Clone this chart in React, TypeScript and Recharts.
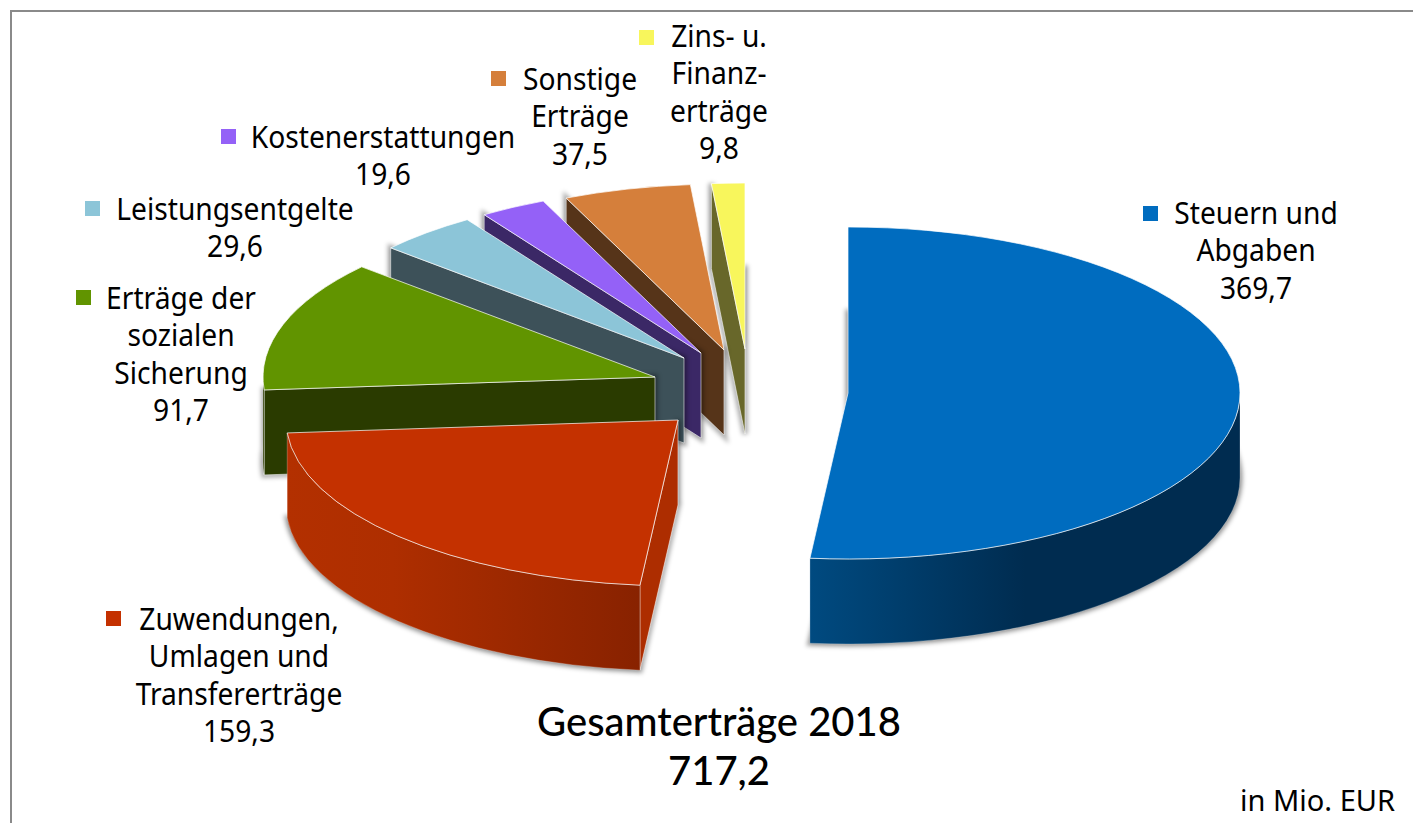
import React from "react";
import { PieChart, Pie } from "recharts";

// Drawn back to front, so the list runs from the rear slice to the blue one.
const categories = [
  "Zins- u.\nFinanz-\nerträge",
  "Sonstige\nErträge",
  "Kostenerstattungen",
  "Leistungsentgelte",
  "Erträge der\nsozialen\nSicherung",
  "Zuwendungen,\nUmlagen und\nTransfererträge",
  "Steuern und\nAbgaben",
];
const values = [9.8, 37.5, 19.6, 29.6, 91.7, 159.3, 369.7];
const valueLabels = ["9,8", "37,5", "19,6", "29,6", "91,7", "159,3", "369,7"];
const title = ["Gesamterträge 2018", "717,2"];
const unitNote = "in Mio. EUR";

const rows = categories.map((name, i) => ({ name, value: values[i], valueLabel: valueLabels[i] }));

// Styling and layout, per slice in the same order
const topColors = ["#f8f65c", "#d57f3b", "#9461f7", "#8cc5d8", "#619400", "#c43100", "#006cbf"];
const cutColors = ["#68672a", "#563419", "#3b2866", "#3d5159", "#2a3b00", "#ad2d00", "#002c50"];
const wallStops: [number, string][][] = [
  [[0, "#68672a"]],
  [[0, "#563419"]],
  [[0, "#3b2866"]],
  [[0, "#3d5159"]],
  [[0, "#2a3b00"]],
  [[0, "#b33000"], [0.3, "#ae2e00"], [1, "#882200"]],
  [[0, "#004a80"], [0.5, "#002c50"], [1, "#002c50"]],
];
const explode = [
  [-103, -44], [-124, -43], [-147, -40], [-164, -35], [-193, -16], [-170, 27], [0, 0],
];
const keyAt = [[639, 30], [491, 71], [221, 129], [85, 201], [76, 290], [106, 611], [1143, 206]];
const labelCenter = [[719, 37], [580, 80], [383, 138], [235, 210], [181, 299], [239, 620], [1256, 214]];

const CX = 848;
const CY = 393;
const RX = 392;
const TILT = 166 / 392;
const DEPTH = 85;
const FONT = "'Noto Sans', sans-serif";
const SQUEEZE = 0.94;

const rad = (d: number) => (d * Math.PI) / 180;

function Slice(props: any) {
  const { cx, cy, outerRadius, startAngle, endAngle, index } = props;
  const sweep = Math.abs(endAngle - startAngle);
  let a0 = ((90 - Math.max(startAngle, endAngle)) % 360 + 360) % 360;
  if (a0 > 359.9) a0 -= 360;
  const a1 = a0 + sweep;
  const rx = outerRadius;
  const ry = outerRadius * TILT;
  const [dx, dy] = explode[index];
  const ax = cx + dx;
  const ay = cy + dy;
  const pt = (a: number, down = 0) =>
    `${ax + rx * Math.sin(rad(a))} ${ay - ry * Math.cos(rad(a)) + down}`;
  const arc = (to: number, clockwise: boolean, large: boolean, down = 0) =>
    `A ${rx} ${ry} 0 ${large ? 1 : 0} ${clockwise ? 1 : 0} ${pt(to, down)}`;

  const top = `M ${ax} ${ay} L ${pt(a0)} ${arc(a1, true, sweep > 180)} Z`;
  const bottom = `M ${ax} ${ay + DEPTH} L ${pt(a0, DEPTH)} ${arc(a1, true, sweep > 180, DEPTH)} Z`;
  const cutVisible = Math.sin(rad(a0)) < -0.001;
  const cut = `M ${ax} ${ay} L ${pt(a0)} L ${pt(a0, DEPTH)} L ${ax} ${ay + DEPTH} Z`;
  const s = Math.max(a0, 90);
  const e = Math.min(a1, 270);
  const wall =
    e > s
      ? `M ${pt(s)} ${arc(e, true, e - s > 180)} L ${pt(e, DEPTH)} ${arc(s, false, e - s > 180, DEPTH)} Z`
      : null;
  const gradId = `wall-${index}`;
  return (
    <g>
      <defs>
        <linearGradient id={gradId} x1="0" x2="1" y1="0" y2="0">
          {wallStops[index].map(([o, c]) => (
            <stop key={o} offset={o} stopColor={c} />
          ))}
        </linearGradient>
      </defs>
      <path
        d={`${bottom} ${cutVisible ? cut : ""}`}
        fill="rgba(0,0,0,0.3)"
        stroke="rgba(0,0,0,0.3)"
        strokeWidth={6}
        style={{ filter: "blur(2px)" }}
      />
      {cutVisible && (
        <path d={cut} fill={cutColors[index]} stroke="rgba(255,255,255,0.55)" strokeWidth={1} />
      )}
      {wall && (
        <path d={wall} fill={`url(#${gradId})`} stroke="rgba(255,255,255,0.3)" strokeWidth={0.8} />
      )}
      <path d={top} fill={topColors[index]} stroke="rgba(255,255,255,0.7)" strokeWidth={1} />
    </g>
  );
}

function SliceLabel(props: any) {
  const { index, payload } = props;
  const row = payload && payload.name ? payload : rows[index];
  const lines: string[] = [...row.name.split("\n"), row.valueLabel];
  const [kx, ky] = keyAt[index];
  const [lx, ly] = labelCenter[index];
  return (
    <g>
      <rect x={kx} y={ky} width={15} height={15} fill={topColors[index]} />
      {lines.map((t, i) => (
        <text
          key={i}
          transform={`translate(${lx} ${ly + i * 37.4 + 10}) scale(${SQUEEZE} 1)`}
          textAnchor="middle"
          fontFamily={FONT}
          fontSize={30}
          fill="#000"
        >
          {t}
        </text>
      ))}
    </g>
  );
}

export default function App() {
  return (
    <div style={{ position: "absolute", left: 0, top: 0, width: 1413, height: 823, overflow: "hidden", background: "#fff" }}>
      <div
        style={{
          position: "absolute",
          left: 10,
          top: 10,
          width: 1413,
          height: 823,
          borderLeft: "2px solid #8a8a8a",
          borderTop: "2px solid #8a8a8a",
        }}
      />
      <div style={{ position: "absolute", left: 0, top: 0 }}>
        <PieChart width={1413} height={823} margin={{ top: 0, right: 0, bottom: 0, left: 0 }}>
          <Pie
            data={rows}
            dataKey="value"
            nameKey="name"
            cx={CX}
            cy={CY}
            innerRadius={0}
            outerRadius={RX}
            startAngle={90}
            endAngle={450}
            paddingAngle={0}
            stroke="none"
            shape={Slice}
            label={SliceLabel}
            labelLine={false}
            isAnimationActive={false}
          />
          <text
            transform="translate(719 736)"
            textAnchor="middle"
            fontFamily="Lato, sans-serif"
            fontSize={40}
            fontWeight={500}
            fill="#000"
          >
            {title.map((t, i) => (
              <tspan key={t} x={0} dy={i === 0 ? 0 : 49}>
                {t}
              </tspan>
            ))}
          </text>
          <text
            transform="translate(1395 811)"
            textAnchor="end"
            fontFamily={FONT}
            fontSize={29}
            fill="#000"
          >
            {unitNote}
          </text>
        </PieChart>
      </div>
    </div>
  );
}
